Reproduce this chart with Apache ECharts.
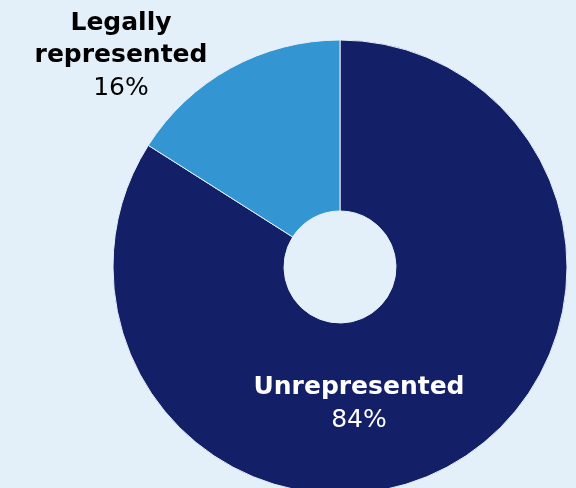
<!DOCTYPE html>
<html>
<head>
<meta charset="utf-8">
<script src="https://cdn.jsdelivr.net/npm/echarts@6/dist/echarts.min.js"></script>
<style>
  html, body { margin: 0; padding: 0; background: #e4f0f9; }
  #chart { width: 576px; height: 488px; }
</style>
</head>
<body>
<div id="chart"></div>
<script>
var names = ['Unrepresented', 'Legally\nrepresented'];
var values = [84, 16];
var colors = ['#131f66', '#3396d2'];
// label anchor points (px)
var labelPos = [[359, 404], [121, 56]];

var chart = echarts.init(document.getElementById('chart'));
var data = [];
for (var i = 0; i < names.length; i++) {
    data.push({
        name: names[i],
        value: values[i],
        itemStyle: {color: colors[i]},
        label: {
            color: i == 0 ? '#ffffff' : '#000000',
            rich: {
                n: {fontWeight: 'bold', fontSize: 25, lineHeight: 32, color: i == 0 ? '#ffffff' : '#000000', fontFamily: 'DejaVu Sans'},
                v: {fontSize: 25, lineHeight: 33, color: i == 0 ? '#ffffff' : '#000000', fontFamily: 'DejaVu Sans'}
            }
        }
    });
}

chart.setOption({
    backgroundColor: '#e4f0f9',
    animation: false,
    series: [{
        type: 'pie',
        center: [340, 267],
        radius: [56, 227],
        startAngle: 90,
        clockwise: true,
        itemStyle: {borderColor: '#e4f0f9', borderWidth: 1},
        label: {
            show: true,
            position: 'inside',
            formatter: function (p) {
                var parts = p.name.split('\n');
                var s = parts.map(function (t) { return '{n|' + t + '}'; }).join('\n');
                return s + '\n{v|' + p.value + '%}';
            }
        },
        labelLine: {show: false},
        labelLayout: function (params) {
            var pos = labelPos[params.dataIndex];
            return {x: pos[0], y: pos[1], align: 'center', verticalAlign: 'middle'};
        },
        data: data
    }]
});
</script>
</body>
</html>
